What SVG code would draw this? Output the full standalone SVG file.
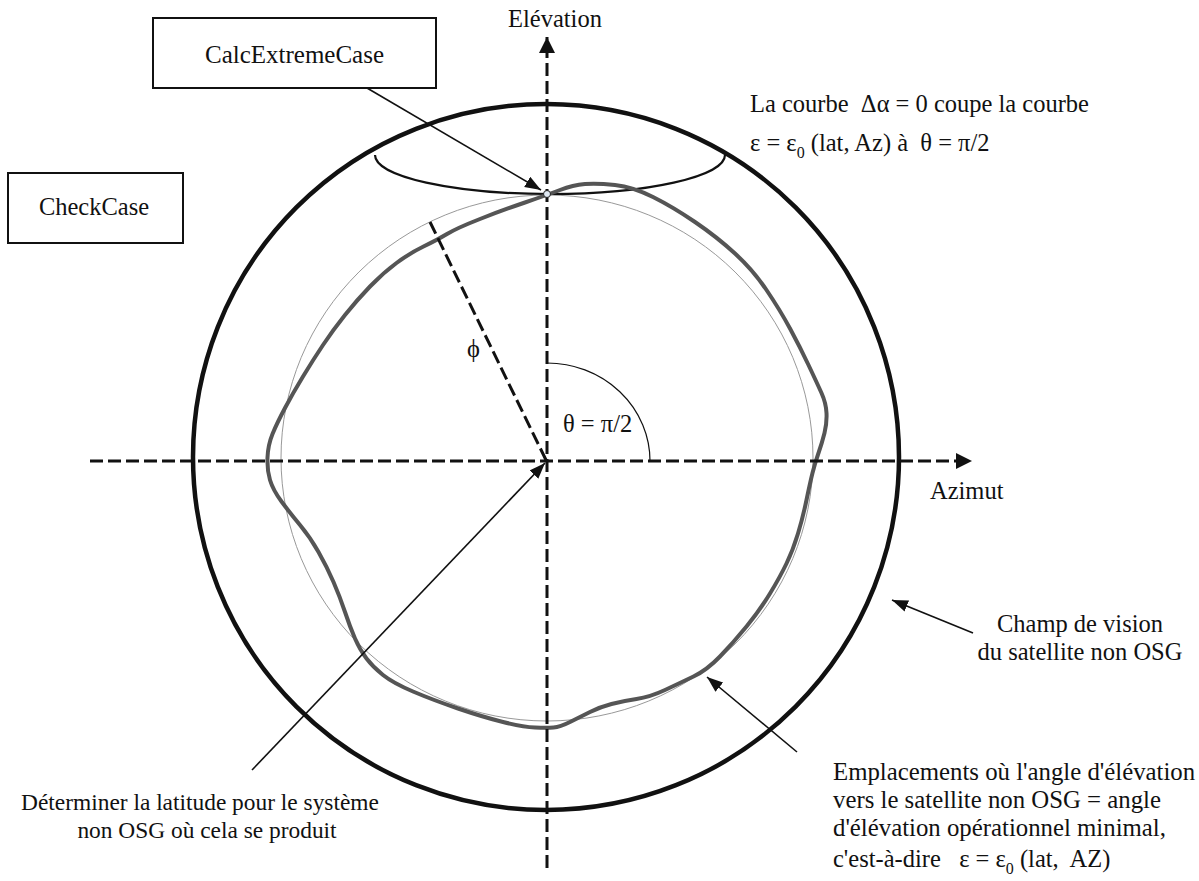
<svg xmlns="http://www.w3.org/2000/svg" width="1199" height="881" viewBox="0 0 1199 881" font-family="'Liberation Serif', 'DejaVu Serif', serif">
<style>
text{font-family:'Liberation Serif','Times New Roman',serif;font-size:24.5px;fill:#111}
.box{fill:#fff;stroke:#111;stroke-width:2}
.axis{fill:none;stroke:#111;stroke-width:3;stroke-dasharray:13 5}
.lead{fill:none;stroke:#111;stroke-width:1.6}
.sub{font-size:16px}
</style>
<defs>
<marker id="ah" markerUnits="userSpaceOnUse" markerWidth="17" markerHeight="13" refX="16" refY="6" orient="auto"><path d="M0,0 L16,6 L0,12 z" fill="#111"/></marker>
<marker id="axh" markerUnits="userSpaceOnUse" markerWidth="17" markerHeight="17" refX="16" refY="8" orient="auto"><path d="M0,0 L16,8 L0,16 z" fill="#111"/></marker>
</defs>
<rect width="1199" height="881" fill="#fff"/>
<g id="fov-circle"><circle cx="546" cy="457" r="353" fill="none" stroke="#111" stroke-width="4.5"/></g>
<g id="ref-circle"><ellipse cx="547" cy="458" rx="266" ry="263" fill="none" stroke="#999" stroke-width="1"/></g>
<g id="delta-curve"><path d="M375,155 A175,39 0 0 0 725,155" fill="none" stroke="#111" stroke-width="2.2"/></g>
<g id="elev-curve"><path d="M525,202.5 Q547,195 560,190 Q573,185 585,184 Q597,183 615,185 Q633,187 653,197 Q673,207 695,222 Q717,237 735,253.5 Q753,270 766.5,290 Q780,310 790,328.5 Q800,347 808.5,365 Q817,383 821.5,393 Q826,403 826.5,413 Q827,423 824.5,433 Q822,443 818.5,453 Q815,463 812.5,473 Q810,483 806.5,500 Q803,517 798,533.5 Q793,550 786.5,563.5 Q780,577 770,593.5 Q760,610 746.5,626.5 Q733,643 720,656.5 Q707,670 693.5,676.5 Q680,683 665,690 Q650,697 636.5,699 Q623,701 611.5,704 Q600,707 590,712 Q580,717 570,722 Q560,727 553.5,727.5 Q547,728 535,727.5 Q523,727 503,722 Q483,717 458,708.5 Q433,700 413,691.5 Q393,683 383,675 Q373,667 366.5,658.5 Q360,650 355,638.5 Q350,627 345,612 Q340,597 333.5,582 Q327,567 318.5,552 Q310,537 300,525 Q290,513 281.5,501.5 Q273,490 270,480 Q267,470 267.5,457.5 Q268,445 272.5,434 Q277,423 285,408 Q293,393 303,376.5 Q313,360 323,345 Q333,330 345,315 Q357,300 370,286.5 Q383,273 396.5,263 Q410,253 423.5,246.5 Q437,240 447,234 Q457,228 480,219 Q503,210 525,202.5 Z" fill="none" stroke="#555" stroke-width="4"/></g>
<g id="connectors">
<line class="axis" x1="547" y1="868" x2="547" y2="37" marker-end="url(#axh)"/>
<line class="axis" x1="90" y1="461" x2="972" y2="461" marker-end="url(#axh)"/>
<line class="axis" x1="430" y1="222" x2="546" y2="460"/>
<path d="M547,363 A103,98 0 0 1 650,461" fill="none" stroke="#111" stroke-width="1.2"/>
<line class="lead" x1="367" y1="88" x2="541" y2="190" marker-end="url(#ah)"/>
<line class="lead" x1="252" y1="770" x2="545" y2="463" marker-end="url(#ah)"/>
<line class="lead" x1="797" y1="752" x2="707" y2="677" marker-end="url(#ah)"/>
<line class="lead" x1="973" y1="633" x2="892" y2="600" marker-end="url(#ah)"/>
</g>
<g id="intersection-point"><circle cx="547" cy="194" r="3.5" fill="#dfe8f2" stroke="#222" stroke-width="1"/></g>
<g id="calc-extreme-case"><rect class="box" x="153" y="18" width="283" height="70"/><text x="294.5" y="63" text-anchor="middle" style="font-size:25px">CalcExtremeCase</text></g>
<g id="check-case"><rect class="box" x="8" y="173" width="175" height="70"/><text x="94" y="215" text-anchor="middle">CheckCase</text></g>
<g id="label-elevation"><text x="555" y="27" text-anchor="middle">Elévation</text></g>
<g id="label-azimut"><text x="930" y="499">Azimut</text></g>
<g id="label-phi"><text x="467" y="357">ϕ</text></g>
<g id="label-theta"><text x="563" y="432">θ = π/2</text></g>
<g id="label-curve"><text x="750" y="112" xml:space="preserve">La courbe  Δα = 0 coupe la courbe</text><text x="750" y="151" xml:space="preserve">ε = ε<tspan class="sub" dy="7">0</tspan><tspan dy="-7"> (lat, Az) à  θ = π/2</tspan></text></g>
<g id="label-champ"><text x="1080" y="632" text-anchor="middle">Champ de vision</text><text x="1080" y="660" text-anchor="middle">du satellite non OSG</text></g>
<g id="label-emplacements" style="font-size:24.8px"><text x="833" y="780" style="font-size:24.8px">Emplacements où l'angle d'élévation</text><text x="833" y="808" style="font-size:24.8px">vers le satellite non OSG = angle</text><text x="833" y="836" style="font-size:24.8px">d'élévation opérationnel minimal,</text><text x="833" y="867" xml:space="preserve">c'est-à-dire   ε = ε<tspan class="sub" dy="7">0</tspan><tspan dy="-7"> (lat,  AZ)</tspan></text></g>
<g id="label-determiner"><text x="200" y="810" text-anchor="middle" style="font-size:23.4px">Déterminer la latitude pour le système</text><text x="207" y="838" text-anchor="middle" style="font-size:23.4px">non OSG où cela se produit</text></g>
</svg>
